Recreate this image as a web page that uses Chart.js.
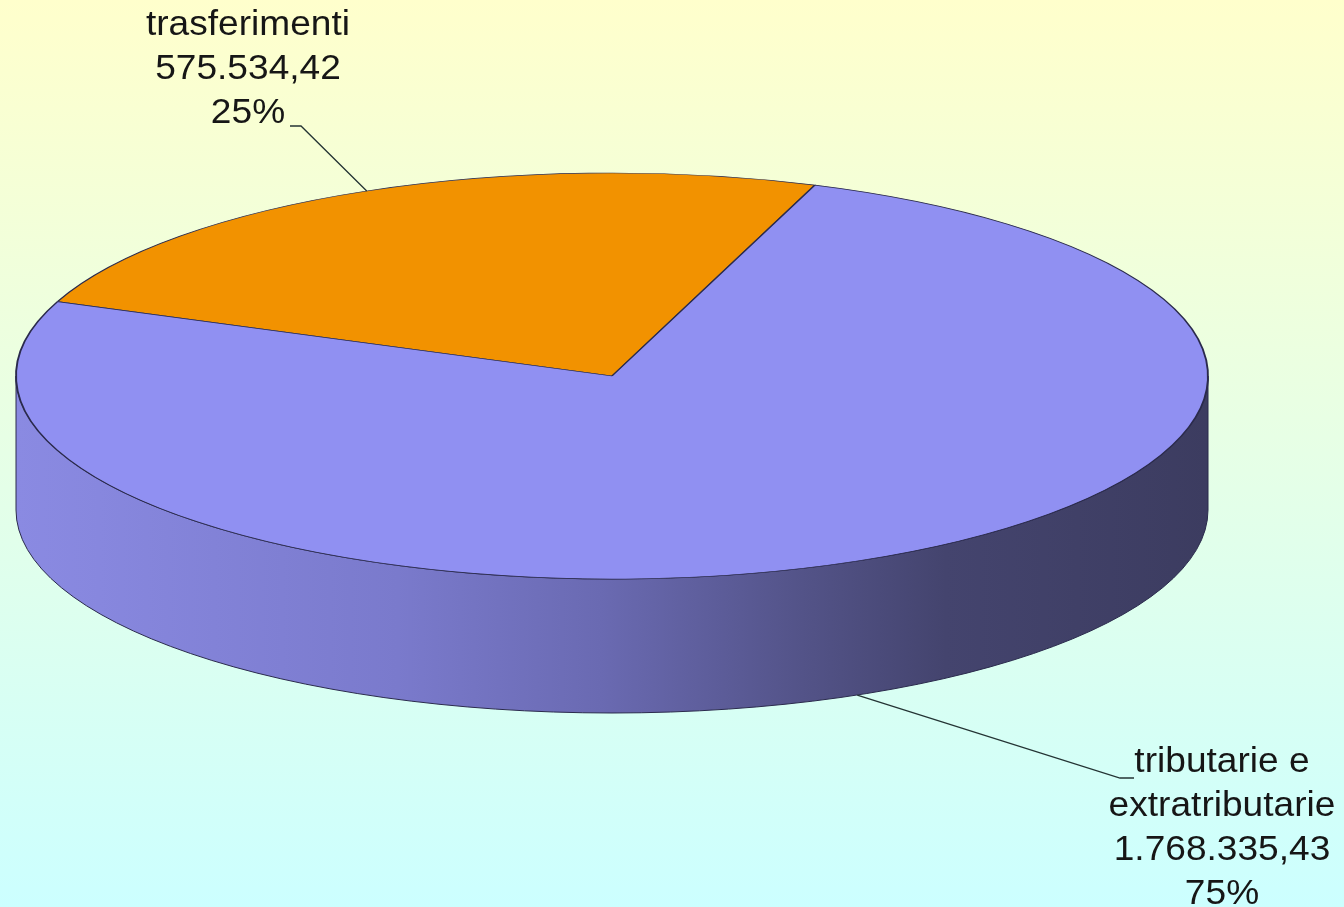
<!DOCTYPE html>
<html lang="it">
<head>
<meta charset="utf-8">
<title>Entrate</title>
<script src="https://cdn.jsdelivr.net/npm/chart.js@4.4.1/dist/chart.umd.min.js"></script>
<style>
html, body { margin:0; padding:0; }
body { width:1344px; height:907px; overflow:hidden; background:linear-gradient(to bottom, #ffffcc 0%, #e6ffe6 50%, #ccffff 100%); }
#wrap { position:relative; width:1344px; height:907px; }
</style>
</head>
<body>
<div id="wrap"><canvas id="chartEntrate"></canvas></div>
<script>
// data
const categories = [['trasferimenti'], ['tributarie e', 'extratributarie']];
const values = [575534.42, 1768335.43];
const topColors = ['#f29200', '#9090f2'];

// label anchors (text centre x, first line middle y, leader elbow)
const labelPos = [
    { x:248, y:25, elbow:[[290,126],[301,126]] },
    { x:1222, y:762, elbow:[[1134,778],[1120,778]] }
];

function fmtIt(v) {
    const [i, d] = v.toFixed(2).split('.');
    return i.replace(/\B(?=(\d{3})+(?!\d))/g, '.') + ',' + d;
}

const pie3d = {
    id: 'pie3d',
    beforeDatasetsDraw(chart, args, opts) {
        const ctx = chart.ctx;
        const arcs = chart.getDatasetMeta(0).data;
        if (!arcs.length) return;
        const cx = arcs[0].x, cy = arcs[0].y, r = arcs[0].outerRadius;
        const rx = opts.rx, ry = opts.ry, d = opts.depth;
        const g = ctx.createLinearGradient(cx - rx, 0, cx + rx, 0);
        opts.sideStops.forEach(([o, c]) => g.addColorStop(o, c));
        ctx.save();
        arcs.forEach((arc, i) => {
            const s = arc.startAngle, e = arc.endAngle;
            [-2, 0, 2].forEach(k => {
                const lo = Math.max(s, k * Math.PI), hi = Math.min(e, k * Math.PI + Math.PI);
                if (hi <= lo) return;
                ctx.beginPath();
                ctx.ellipse(cx, cy, rx, ry, 0, lo, hi);
                ctx.ellipse(cx, cy + d, rx, ry, 0, hi, lo, true);
                ctx.closePath();
                ctx.fillStyle = i === 1 ? g : '#b06a00';
                ctx.fill();
                ctx.lineWidth = 1;
                ctx.strokeStyle = '#2a2a4c';
                ctx.stroke();
            });
        });
        ctx.restore();
        // squash the flat pie into the top face
        ctx.save();
        ctx.translate(cx, cy);
        ctx.scale(rx / r, ry / r);
        ctx.translate(-cx, -cy);
    },
    afterDatasetsDraw(chart) {
        chart.ctx.restore();
    }
};

const pieLabels = {
    id: 'pieLabels',
    afterDraw(chart) {
        const ctx = chart.ctx;
        const o = chart.options.plugins.pie3d;
        const arcs = chart.getDatasetMeta(0).data;
        const total = values.reduce((s, v) => s + v, 0);
        ctx.save();
        arcs.forEach((arc, i) => {
            const mid = (arc.startAngle + arc.endAngle) / 2;
            const tx = arc.x + o.rx * Math.cos(mid);
            const ty = arc.y + o.ry * Math.sin(mid) + (Math.sin(mid) > 0 ? o.depth : 0);
            const p = labelPos[i];
            ctx.beginPath();
            ctx.moveTo(p.elbow[0][0], p.elbow[0][1]);
            ctx.lineTo(p.elbow[1][0], p.elbow[1][1]);
            ctx.lineTo(tx, ty);
            ctx.lineWidth = 1.3;
            ctx.strokeStyle = '#243434';
            ctx.stroke();

            const lines = categories[i].concat([fmtIt(values[i]), Math.round(values[i] / total * 100) + '%']);
            ctx.fillStyle = '#161616';
            ctx.font = '35px "Liberation Sans", Arial, sans-serif';
            ctx.textAlign = 'center';
            ctx.textBaseline = 'middle';
            lines.forEach((t, j) => {
                ctx.save();
                ctx.translate(p.x, p.y + j * 44);
                ctx.scale(1.06, 1);
                ctx.fillText(t, 0, 0);
                ctx.restore();
            });
        });
        ctx.restore();
    }
};

new Chart(document.getElementById('chartEntrate'), {
    type: 'pie',
    data: {
        labels: categories,
        datasets: [{
            data: values,
            backgroundColor: topColors,
            borderColor: '#2a2a4c',
            borderWidth: 1.2,
            clip: false
        }]
    },
    options: {
        responsive: true,
        maintainAspectRatio: false,
        animation: false,
        events: [],
        rotation: -68.5,
        layout: { padding: { left:0, right:120, top:0, bottom:155 } },
        plugins: {
            legend: { display:false },
            tooltip: { enabled:false },
            pie3d: {
                rx: 596, ry: 203, depth: 134,
                sideStops: [[0,'#8a8ae2'],[0.07,'#8787de'],[0.32,'#7a7acc'],[0.49,'#6a6ab2'],[0.66,'#535388'],[0.78,'#44446e'],[1,'#3c3c60']]
            }
        }
    },
    plugins: [pie3d, pieLabels]
});
</script>
</body>
</html>
